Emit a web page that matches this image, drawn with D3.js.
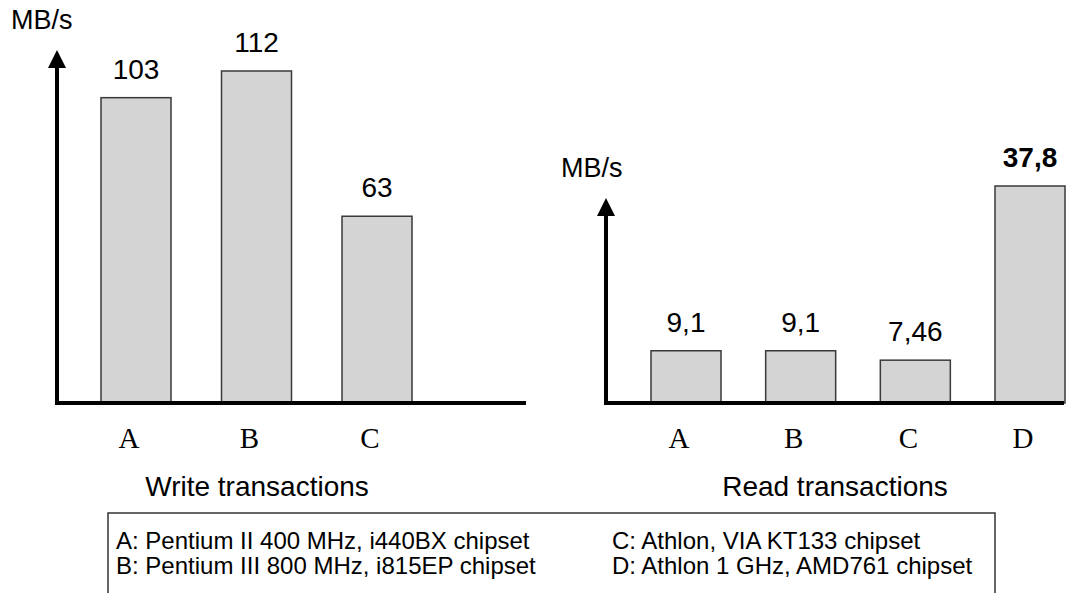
<!DOCTYPE html>
<html>
<head>
<meta charset="utf-8">
<script src="https://cdn.jsdelivr.net/npm/d3@7"></script>
<style>
  html, body { margin: 0; padding: 0; background: #fff; }
  svg { display: block; }
</style>
</head>
<body>
<svg id="chart" width="1066" height="593"></svg>
<script>
// Bus transfer rates per system
const writeCategories = ["A", "B", "C"];
const writeValues = [103, 112, 63];
const writeLabels = ["103", "112", "63"];

const readCategories = ["A", "B", "C", "D"];
const readValues = [9.1, 9.1, 7.46, 37.8];
const readLabels = ["9,1", "9,1", "7,46", "37,8"];

const unitLabel = "MB/s";
const panelTitles = ["Write transactions", "Read transactions"];
const legendLeft = ["A: Pentium II 400 MHz, i440BX chipset", "B: Pentium III 800 MHz, i815EP chipset"];
const legendRight = ["C: Athlon, VIA KT133 chipset", "D: Athlon 1 GHz, AMD761 chipset"];

const svg = d3.select("#chart");
const sans = "'Liberation Sans', Arial, sans-serif";
const serif = "'Liberation Serif', 'Times New Roman', serif";
const barFill = "#d4d4d4";
const barStroke = "#3a3a3a";

function drawPanel(cfg) {
  const g = svg.append("g");
  const x = d3.scalePoint().domain(cfg.categories).range(cfg.xRange);
  const y = d3.scaleLinear().domain([0, d3.max(cfg.values)]).range(cfg.yRange);
  const barW = 70;
  const base = y(0);

  // bars
  g.selectAll("rect.bar")
    .data(cfg.categories)
    .join("rect")
    .attr("class", "bar")
    .attr("x", (d) => x(d) - barW / 2)
    .attr("y", (d, i) => y(cfg.values[i]))
    .attr("width", barW)
    .attr("height", (d, i) => base - y(cfg.values[i]))
    .attr("fill", barFill)
    .attr("stroke", barStroke)
    .attr("stroke-width", 1.5);

  // value labels above bars
  g.selectAll("text.val")
    .data(cfg.categories)
    .join("text")
    .attr("class", "val")
    .attr("x", (d) => x(d))
    .attr("y", (d, i) => y(cfg.values[i]) - 19)
    .attr("text-anchor", "middle")
    .attr("font-family", sans)
    .attr("font-size", 28)
    .attr("font-weight", (d, i) => (cfg.bold && cfg.bold[i] ? "bold" : "normal"))
    .attr("fill", "#000")
    .text((d, i) => cfg.labels[i]);

  // category letters below the axis
  g.selectAll("text.cat")
    .data(cfg.categories)
    .join("text")
    .attr("class", "cat")
    .attr("x", (d) => x(d) - 7)
    .attr("y", base + 45)
    .attr("text-anchor", "middle")
    .attr("font-family", serif)
    .attr("font-size", 29)
    .attr("fill", "#000")
    .text((d) => d);

  // horizontal axis
  g.append("line")
    .attr("x1", cfg.axisX - 2)
    .attr("x2", cfg.axisEnd)
    .attr("y1", base)
    .attr("y2", base)
    .attr("stroke", "#000")
    .attr("stroke-width", 4);

  // vertical axis with arrow head
  const headH = 18, headW = 18;
  g.append("line")
    .attr("x1", cfg.axisX)
    .attr("x2", cfg.axisX)
    .attr("y1", base + 2)
    .attr("y2", cfg.arrowTip + headH - 1)
    .attr("stroke", "#000")
    .attr("stroke-width", 4);
  g.append("path")
    .attr("d", `M${cfg.axisX},${cfg.arrowTip} L${cfg.axisX - headW / 2},${cfg.arrowTip + headH} L${cfg.axisX + headW / 2},${cfg.arrowTip + headH} Z`)
    .attr("fill", "#000");

  // unit label
  g.append("text")
    .attr("x", cfg.unitPos[0])
    .attr("y", cfg.unitPos[1])
    .attr("font-family", sans)
    .attr("font-size", 27)
    .attr("fill", "#000")
    .text(unitLabel);

  // panel title
  g.append("text")
    .attr("x", cfg.titleX)
    .attr("y", 496)
    .attr("text-anchor", "middle")
    .attr("font-family", sans)
    .attr("font-size", 28)
    .attr("fill", "#000")
    .text(cfg.title);
}

drawPanel({
  categories: writeCategories,
  values: writeValues,
  labels: writeLabels,
  xRange: [136, 377],
  yRange: [403, 71],
  axisX: 57,
  axisEnd: 526,
  arrowTip: 50,
  unitPos: [11, 29],
  titleX: 257,
  title: panelTitles[0]
});

drawPanel({
  categories: readCategories,
  values: readValues,
  labels: readLabels,
  bold: [false, false, false, true],
  xRange: [686, 1030],
  yRange: [403, 186],
  axisX: 606,
  axisEnd: 1064,
  arrowTip: 198,
  unitPos: [561, 177],
  titleX: 835,
  title: panelTitles[1]
});

// legend box (open at the bottom edge of the page)
const legend = svg.append("g");
legend.append("path")
  .attr("d", "M108,600 L108,513 L995,513 L995,600")
  .attr("fill", "none")
  .attr("stroke", "#333")
  .attr("stroke-width", 1.5);

legend.selectAll("text.left")
  .data(legendLeft)
  .join("text")
  .attr("class", "left")
  .attr("x", 116)
  .attr("y", (d, i) => 549 + i * 25)
  .attr("font-family", sans)
  .attr("font-size", 24)
  .attr("fill", "#000")
  .text((d) => d);

legend.selectAll("text.right")
  .data(legendRight)
  .join("text")
  .attr("class", "right")
  .attr("x", 612)
  .attr("y", (d, i) => 549 + i * 25)
  .attr("font-family", sans)
  .attr("font-size", 24)
  .attr("fill", "#000")
  .text((d) => d);
</script>
</body>
</html>
